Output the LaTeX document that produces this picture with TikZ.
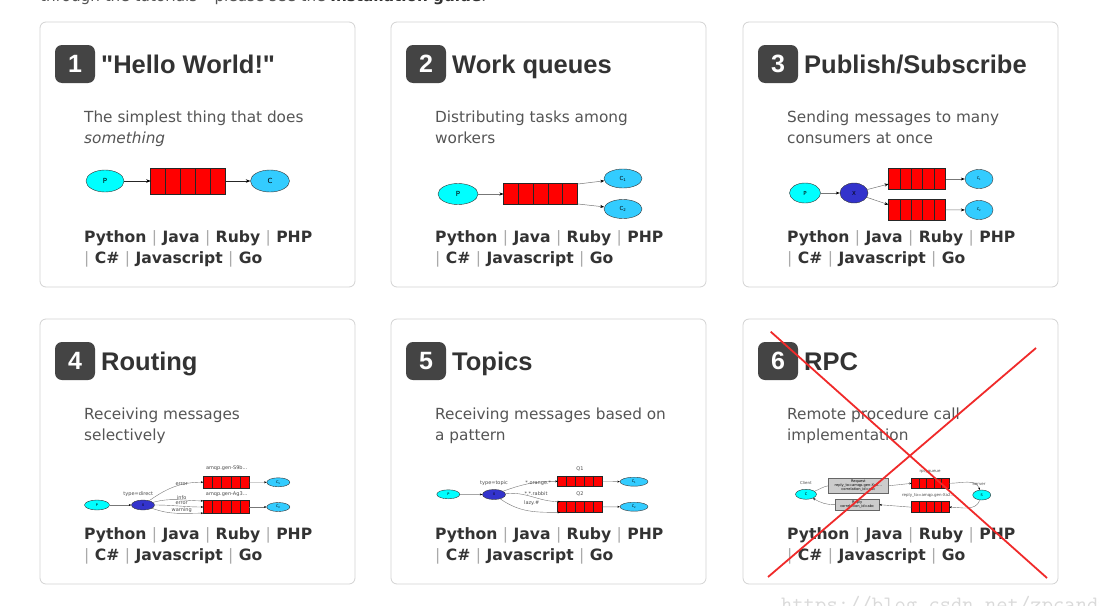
\documentclass[tikz,border=0pt]{standalone}
\usepackage{fontspec}
\setmainfont{DejaVu Sans}
\newfontfamily\headfont{Liberation Sans}
\usetikzlibrary{shapes.geometric,calc,arrows.meta}

\definecolor{cardline}{HTML}{D3D3D3}
\definecolor{ink}{HTML}{333333}
\definecolor{blurbgray}{HTML}{555555}
\definecolor{pipegray}{HTML}{AAAAAA}
\definecolor{badgebg}{HTML}{444444}
\definecolor{prodfill}{HTML}{00FFFF}
\definecolor{consfill}{HTML}{33CCFF}
\definecolor{exchfill}{HTML}{3333CC}
\definecolor{qred}{HTML}{FF0000}
\definecolor{edgegray}{HTML}{777777}
\definecolor{notefill}{HTML}{CCCCCC}
\definecolor{crossred}{HTML}{F02A2A}
\definecolor{wmgray}{HTML}{DADADA}

\newcommand\pipesep{ {\color{pipegray}\mdseries|} }

% one tutorial card, drawn in its own shifted scope
\newcommand\tutcard[5]{%
  \draw[cardbox] (0,0) rectangle (315,265);
  \node[badge] (#1-num) at (35,42) {#2};
  \node[heading] (#1-title) at (61,51) {#3};
  \node[blurb] (#1-line1) at (44,100) {#4};
  \node[blurb] (#1-line2) at (44,121) {#5};
  \node[langs] (#1-langs1) at (44,220.5) {Python\pipesep Java\pipesep Ruby\pipesep PHP};
  \node[langs] (#1-langs2) at (44,241.5) {{\color{pipegray}\mdseries|} C\#\pipesep Javascript\pipesep Go};
}

\tikzset{
  x=1pt, y=-1pt,
  cardbox/.style={draw=cardline, fill=white, line width=0.8pt, rounded corners=6pt},
  badge/.style={fill=badgebg, text=white, rounded corners=7pt, minimum width=40pt,
    minimum height=38pt, inner sep=0pt, font=\headfont\bfseries\fontsize{25}{25}\selectfont},
  heading/.style={anchor=base west, inner sep=0pt, text=ink,
    font=\headfont\bfseries\fontsize{25.5}{25}\selectfont},
  blurb/.style={anchor=base west, inner sep=0pt, text=blurbgray, font=\fontsize{15.3}{21}\selectfont},
  langs/.style={anchor=base west, inner sep=0pt, text=ink, font=\bfseries\fontsize{15.6}{21}\selectfont},
  producer/.style={ellipse, draw=black!80, fill=prodfill, line width=0.4pt, inner sep=0pt},
  consumer/.style={ellipse, draw=black!80, fill=consfill, line width=0.4pt, inner sep=0pt},
  exchange/.style={ellipse, draw=black!80, fill=exchfill, line width=0.4pt, inner sep=0pt},
  queue/.style={rectangle, draw=black!85, fill=qred, line width=0.6pt, inner sep=0pt, outer sep=0pt,
    path picture={\foreach \k in {1,2,3,4}{
      \draw[black!85, line width=0.7pt]
        ($(path picture bounding box.north west)!{\k/5}!(path picture bounding box.north east)$) --
        ($(path picture bounding box.south west)!{\k/5}!(path picture bounding box.south east)$);}}},
  notebox/.style={rectangle, draw=black!60, fill=notefill, line width=0.3pt, inner sep=0pt,
    align=center, font=\fontsize{3.6}{4}\selectfont},
  flow/.style={draw=edgegray, line width=0.5pt, -{Stealth[length=4pt,width=3pt,black]}},
  flowdark/.style={draw=black!85, line width=0.5pt, -{Stealth[length=4.5pt,width=3.5pt,black]}},
  smallflow/.style={draw=edgegray, line width=0.4pt, -{Stealth[length=2.5pt,width=2pt,black]}},
  bigglyph/.style={font=\fontsize{7}{7}\selectfont},
  midglyph/.style={font=\fontsize{5.5}{5.5}\selectfont},
  tinyglyph/.style={font=\fontsize{3.5}{3.5}\selectfont},
  tag/.style={inner sep=0pt, text=black!70, font=\fontsize{5}{5}\selectfont},
  smalltag/.style={inner sep=0pt, text=black!70, font=\fontsize{4}{4}\selectfont},
  crossline/.style={draw=crossred, line width=1.8pt},
}

\begin{document}
\begin{tikzpicture}
\useasboundingbox (0,0) rectangle (1099,605);
\clip (0,0) rectangle (1099,605);
\fill[white] (0,0) rectangle (1099,605);

% line of page text above the cards
\node[anchor=base west, inner sep=0pt, text=blurbgray, font=\fontsize{15.2}{21}\selectfont]
  (intro) at (40,1.5) {through the tutorials -- please see the \textbf{\color{ink}Installation guide}.};

% the six cards
\begin{scope}[shift={(40,22)}]
  \tutcard{hello}{1}{"Hello World!"}{The simplest thing that does}{\textit{something}}
\end{scope}
\begin{scope}[shift={(391,22)}]
  \tutcard{work}{2}{Work queues}{Distributing tasks among}{workers}
\end{scope}
\begin{scope}[shift={(743,22)}]
  \tutcard{pubsub}{3}{Publish/Subscribe}{Sending messages to many}{consumers at once}
\end{scope}
\begin{scope}[shift={(40,319)}]
  \tutcard{routing}{4}{Routing}{Receiving messages}{selectively}
\end{scope}
\begin{scope}[shift={(391,319)}]
  \tutcard{topics}{5}{Topics}{Receiving messages based on}{a pattern}
\end{scope}
\begin{scope}[shift={(743,319)}]
  \tutcard{rpc}{6}{RPC}{Remote procedure call}{implementation}
\end{scope}

% 1: producer -> queue -> consumer
\node[producer, minimum width=38pt, minimum height=22pt, bigglyph] (p1) at (105,181) {P};
\node[queue, minimum width=75pt, minimum height=26pt] (q1) at (188.2,181) {};
\node[consumer, minimum width=39pt, minimum height=22pt, bigglyph] (c1) at (270,181) {C};
\draw[flowdark] (p1) -- (q1);
\draw[flowdark] (q1) -- (c1);

% 2: work queue with two consumers
\node[producer, minimum width=40pt, minimum height=21pt, bigglyph] (p2) at (458,194) {P};
\node[queue, minimum width=74pt, minimum height=21pt] (q2) at (540.5,194) {};
\node[consumer, minimum width=38pt, minimum height=19pt, midglyph] (c2a) at (623,178.5) {C\textsubscript{1}};
\node[consumer, minimum width=38pt, minimum height=19pt, midglyph] (c2b) at (623,209) {C\textsubscript{2}};
\draw[flow] (p2) -- (q2);
\draw[flow] (q2.15) -- (c2a);
\draw[flow] (q2.-15) -- (c2b);

% 3: fanout exchange
\node[producer, minimum width=31pt, minimum height=20pt, midglyph] (p3) at (805,193) {P};
\node[exchange, minimum width=28pt, minimum height=20pt, midglyph] (x3) at (854,193) {X};
\node[queue, minimum width=57pt, minimum height=21pt] (q3a) at (917,179) {};
\node[queue, minimum width=57pt, minimum height=21pt] (q3b) at (917,209.7) {};
\node[consumer, minimum width=28pt, minimum height=19pt, tinyglyph] (c3a) at (979,179) {C\textsubscript{1}};
\node[consumer, minimum width=28pt, minimum height=19pt, tinyglyph] (c3b) at (979,210) {C\textsubscript{2}};
\draw[flow] (p3) -- (x3);
\draw[flow] (x3) -- (q3a.190);
\draw[flow] (x3) -- (q3b.170);
\draw[flow] (q3a) -- (c3a);
\draw[flow] (q3b) -- (c3b);

% 4: direct exchange with bindings
\node[producer, minimum width=25pt, minimum height=10pt, tinyglyph] (p4) at (97,505) {P};
\node[exchange, minimum width=23pt, minimum height=10pt, tinyglyph] (x4) at (143,505) {X};
\node[queue, minimum width=46pt, minimum height=12.5pt] (q4a) at (226.3,482.2) {};
\node[queue, minimum width=46pt, minimum height=12.5pt] (q4b) at (226.3,507) {};
\node[consumer, minimum width=23pt, minimum height=9pt, tinyglyph] (c4a) at (278.3,482.3) {C\textsubscript{1}};
\node[consumer, minimum width=23pt, minimum height=9pt, tinyglyph] (c4b) at (278.3,507) {C\textsubscript{2}};
\draw[smallflow] (p4) -- (x4);
\draw[smallflow] (x4) to[out=35,in=180] (q4a.west);
\draw[smallflow] (x4) to[out=15,in=180] (q4b.165);
\draw[smallflow] (x4) to[out=0,in=180] (q4b.west);
\draw[smallflow] (x4) to[out=-20,in=180] (q4b.195);
\draw[smallflow] (q4a) -- (c4a);
\draw[smallflow] (q4b) -- (c4b);
\node[tag] (t4type) at (138.3,494.3) {type=direct};
\node[tag] (t4err1) at (181.7,484) {error};
\node[tag] (t4info) at (181.7,497.3) {info};
\node[tag] (t4err2) at (181.7,503.3) {error};
\node[tag] (t4warn) at (181.7,510) {warning};
\node[tag] (t4qa) at (226.7,468.3) {amqp.gen-S9b...};
\node[tag] (t4qb) at (226.7,494) {amqp.gen-Ag3...};

% 5: topic exchange with patterns
\node[producer, minimum width=23pt, minimum height=9pt, tinyglyph] (p5) at (448.3,494.3) {P};
\node[exchange, minimum width=23pt, minimum height=10pt, tinyglyph] (x5) at (494,494.5) {X};
\node[queue, minimum width=45pt, minimum height=10.7pt] (q5a) at (580.2,481.3) {};
\node[queue, minimum width=45pt, minimum height=10.7pt] (q5b) at (580.2,507) {};
\node[consumer, minimum width=28pt, minimum height=9pt, tinyglyph] (c5a) at (634,481.7) {C\textsubscript{1}};
\node[consumer, minimum width=28pt, minimum height=9pt, tinyglyph] (c5b) at (634,506.7) {C\textsubscript{2}};
\draw[smallflow] (p5) -- (x5);
\draw[smallflow] (x5) to[out=20,in=180] (q5a.west);
\draw[smallflow] (x5) to[out=5,in=180] (q5b.165);
\draw[smallflow] (x5) to[out=-35,in=180] (q5b.195);
\draw[smallflow] (q5a) -- (c5a);
\draw[smallflow] (q5b) -- (c5b);
\node[tag] (t5type) at (494,483.3) {type=topic};
\node[tag] (t5orange) at (538.3,483.3) {*.orange.*};
\node[tag] (t5rabbit) at (536,494) {*.*.rabbit};
\node[tag] (t5lazy) at (531.7,503.3) {lazy.\#};
\node[tag] (t5qa) at (580,469.3) {Q1};
\node[tag] (t5qb) at (580,494) {Q2};

% 6: request / reply
\node[producer, minimum width=21pt, minimum height=10pt, tinyglyph] (cli) at (806,494.3) {C};
\node[producer, minimum width=18pt, minimum height=10pt, tinyglyph] (srv) at (981.7,495) {S};
\node[notebox, minimum width=60pt, minimum height=15pt] (req) at (858.3,485.8)
  {Request\\reply\_to=amqp.gen-Xa2...\\correlation\_id=abc};
\node[notebox, minimum width=44pt, minimum height=10.7pt] (rep) at (857.2,504.7)
  {Reply\\correlation\_id=abc};
\node[queue, minimum width=37.6pt, minimum height=10pt] (rpcq) at (930.5,483.3) {};
\node[queue, minimum width=37.6pt, minimum height=11pt] (repq) at (930.5,507.2) {};
\node[smalltag] (t6cli) at (806,483.3) {Client};
\node[smalltag] (t6srv) at (979,484) {Server};
\node[smalltag] (t6rpcq) at (930,471.7) {rpc\_queue};
\node[smalltag] (t6repq) at (928.3,495) {reply\_to=amqp.gen-Xa2...};
\draw[draw=edgegray, line width=0.4pt] (cli) to[out=20,in=190] (req.west);
\draw[smallflow] (req.east) -- (rpcq.west);
\draw[smallflow] (rpcq.east) to[out=0,in=110] (srv);
\draw[smallflow] (srv) to[out=-110,in=0] (repq.east);
\draw[smallflow] (repq.west) -- (rep.east);
\draw[smallflow] (rep.west) to[out=180,in=-30] (cli);

% the red cross over the last card
\draw[crossline] (770.7,331.7) -- (1047,578);
\draw[crossline] (1036,348) -- (768,577);

% site address in the lower right corner
\node[anchor=base west, inner sep=0pt, text=wmgray, font=\ttfamily\fontsize{22}{22}\selectfont]
  (site) at (781,611) {https://blog.csdn.net/zpcandy};
\end{tikzpicture}
\end{document}
